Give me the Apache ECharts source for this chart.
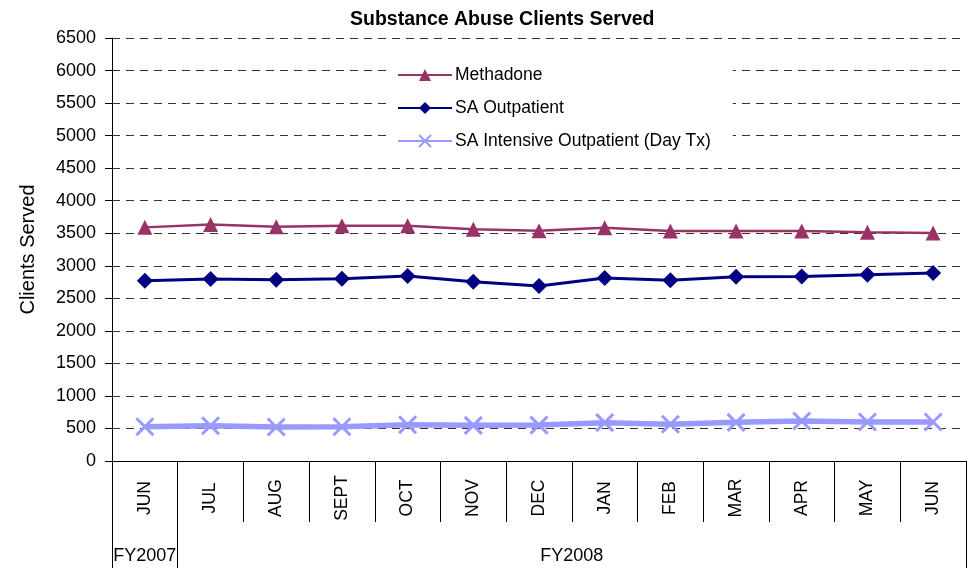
<!DOCTYPE html>
<html>
<head>
<meta charset="utf-8">
<script src="https://cdn.jsdelivr.net/npm/echarts@6/dist/echarts.min.js"></script>
<style>
  html, body { margin: 0; padding: 0; background: #fff; }
  #chart { width: 977px; height: 573px; }
</style>
</head>
<body>
<div id="chart"></div>
<script>
const months = ['JUN', 'JUL', 'AUG', 'SEPT', 'OCT', 'NOV', 'DEC', 'JAN', 'FEB', 'MAR', 'APR', 'MAY', 'JUN'];
const fiscalYears = ['FY2007', 'FY2008'];
const methadone = [3590, 3635, 3600, 3615, 3615, 3560, 3540, 3585, 3535, 3535, 3535, 3515, 3505];
const saOutpatient = [2770, 2797, 2786, 2801, 2843, 2755, 2689, 2812, 2777, 2832, 2835, 2863, 2889];
const saIntensive = [527, 542, 522, 527, 558, 548, 552, 589, 564, 594, 615, 599, 599];

const font = 'Liberation Sans, Arial, sans-serif';
const chart = echarts.init(document.getElementById('chart'));

const option = {
  backgroundColor: '#fff',
  animation: false,
  textStyle: { fontFamily: font, color: '#000' },
  title: {
    text: 'Substance Abuse Clients Served',
    left: 345,
    top: 5,
    textStyle: { fontFamily: font, fontSize: 19.5, fontWeight: 'bold', color: '#000' }
  },
  legend: {
    orient: 'vertical',
    left: 388,
    top: 58,
    itemWidth: 54,
    itemHeight: 15,
    itemGap: 15,
    padding: [8, 22, 8, 9],
    backgroundColor: '#fff',
    textStyle: { fontFamily: font, fontSize: 17.5, color: '#000', padding: [0, 0, 0, -2] },
    data: ['Methadone', 'SA Outpatient', 'SA Intensive Outpatient (Day Tx)']
  },
  grid: { left: 112, right: 11, top: 38, bottom: 112 },
  xAxis: [
    {
      type: 'category',
      data: months,
      boundaryGap: true,
      axisLine: { show: true, lineStyle: { color: '#000', width: 1 } },
      axisTick: { show: true, interval: 0, alignWithLabel: false, length: 61, lineStyle: { color: '#000', width: 1 } },
      axisLabel: {
        interval: 0, rotate: 90, align: 'center', verticalAlign: 'middle',
        margin: 37, fontSize: 17.5, color: '#000', fontFamily: font
      },
      splitLine: { show: false }
    },
    {
      type: 'value',
      min: 0,
      max: 13,
      position: 'bottom',
      offset: 61,
      axisLine: { show: false },
      axisTick: { show: true, customValues: [0, 1, 13], length: 46, lineStyle: { color: '#000' } },
      axisLabel: {
        customValues: [0.5, 7],
        formatter: function (v) { return v < 1 ? fiscalYears[0] : fiscalYears[1]; },
        margin: 25, fontSize: 18, color: '#000', fontFamily: font
      },
      splitLine: { show: false }
    }
  ],
  yAxis: {
    type: 'value',
    min: 0,
    max: 6500,
    interval: 500,
    name: 'Clients Served',
    nameLocation: 'middle',
    nameGap: 74,
    nameTextStyle: { fontFamily: font, fontSize: 20, color: '#000' },
    axisLine: { show: true, lineStyle: { color: '#000', width: 1 } },
    axisTick: { show: true, length: 7, lineStyle: { color: '#000', width: 1 } },
    axisLabel: {
      margin: 16, fontSize: 18, color: '#000', fontFamily: font,
      formatter: function (v) { return String(v); }
    },
    splitLine: { show: true, lineStyle: { color: '#333', type: [8, 6], width: 1 } }
  },
  series: [
    {
      name: 'Methadone',
      type: 'line',
      data: methadone,
      symbol: 'triangle',
      symbolSize: 15,
      itemStyle: { color: '#993366' },
      lineStyle: { color: '#993366', width: 2.5 },
      z: 3
    },
    {
      name: 'SA Outpatient',
      type: 'line',
      data: saOutpatient,
      symbol: 'diamond',
      symbolSize: 16,
      itemStyle: { color: '#000080' },
      lineStyle: { color: '#000080', width: 3 },
      z: 3
    },
    {
      name: 'SA Intensive Outpatient (Day Tx)',
      type: 'line',
      data: saIntensive,
      symbol: 'path://M0,0L10,10M10,0L0,10',
      symbolSize: 17,
      itemStyle: { color: 'none', borderColor: '#9999FF', borderWidth: 3 },
      lineStyle: { color: '#9999FF', width: 5.5 },
      z: 3
    }
  ]
};

chart.setOption(option);
</script>
</body>
</html>
